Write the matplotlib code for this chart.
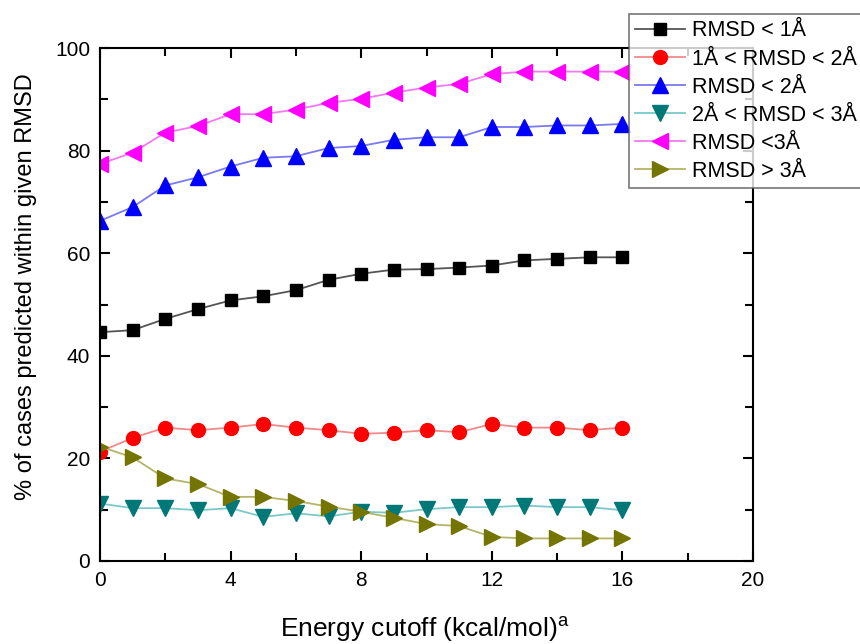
import matplotlib
matplotlib.use('Agg')
import matplotlib.pyplot as plt
from matplotlib.ticker import MultipleLocator

plt.rcParams['font.family'] = ['Liberation Sans', 'DejaVu Sans']

# data
cutoff = list(range(17))
rmsd_lt1 = [44.6, 45.0, 47.2, 49.1, 50.8, 51.6, 52.8, 54.8, 56.0, 56.8, 56.9, 57.2, 57.6, 58.6, 58.9, 59.2, 59.2]
rmsd_1_2 = [21.3, 24.0, 26.0, 25.5, 26.0, 26.7, 26.0, 25.5, 24.8, 25.0, 25.5, 25.1, 26.7, 26.0, 26.0, 25.5, 26.0]
rmsd_lt2 = [66.3, 69.0, 73.2, 74.8, 76.9, 78.6, 78.9, 80.5, 80.9, 82.1, 82.6, 82.6, 84.6, 84.6, 84.9, 84.9, 85.2]
rmsd_2_3 = [11.2, 10.3, 10.3, 9.9, 10.3, 8.6, 9.3, 8.7, 9.6, 9.4, 10.1, 10.5, 10.5, 10.8, 10.5, 10.5, 9.9]
rmsd_lt3 = [77.4, 79.6, 83.5, 84.8, 87.1, 87.1, 88.0, 89.3, 90.1, 91.3, 92.3, 93.0, 94.9, 95.4, 95.4, 95.4, 95.4]
rmsd_gt3 = [22.3, 20.2, 16.1, 15.0, 12.5, 12.5, 11.7, 10.6, 9.6, 8.4, 7.2, 6.8, 4.7, 4.4, 4.4, 4.4, 4.4]

series = [
    (rmsd_lt1, 'RMSD < 1Å', 's', 'black', '#555555', 9),
    (rmsd_1_2, '1Å < RMSD < 2Å', 'o', 'red', '#f08a8a', 10),
    (rmsd_lt2, 'RMSD < 2Å', '^', 'blue', '#7a7af0', 11),
    (rmsd_2_3, '2Å < RMSD < 3Å', 'v', '#007878', '#7cc8c8', 11),
    (rmsd_lt3, 'RMSD <3Å', '<', 'magenta', '#f27af2', 11),
    (rmsd_gt3, 'RMSD > 3Å', '>', '#747400', '#b4b46a', 11),
]

fig = plt.figure(figsize=(8.6, 6.44), dpi=100)
ax = fig.add_axes([100 / 860, 1 - 561 / 644, 653 / 860, 513 / 644])

for vals, lab, mk, col, lcol, ms in series:
    ax.plot(cutoff, vals, color=lcol, lw=1.3, marker=mk, markersize=ms,
            markerfacecolor=col, markeredgecolor=col, label=lab)

ax.set_xlim(0, 20)
ax.set_ylim(0, 100)
ax.xaxis.set_major_locator(MultipleLocator(4))
ax.xaxis.set_minor_locator(MultipleLocator(2))
ax.yaxis.set_major_locator(MultipleLocator(20))
ax.yaxis.set_minor_locator(MultipleLocator(10))
ax.tick_params(which='both', direction='in', top=True, right=True, width=1.5,
               labelsize=15, pad=7)
ax.tick_params(which='major', length=7)
ax.tick_params(which='minor', length=6)
for sp in ax.spines.values():
    sp.set_linewidth(1.5)

ax.set_xlabel('Energy cutoff (kcal/mol)$^{\\mathregular{a}}$', fontsize=19)
ax.set_ylabel('% of cases predicted within given RMSD', fontsize=17)
ax.xaxis.set_label_coords(0.497, -0.103)
ax.yaxis.set_label_coords(-0.097, 0.534)

# legend hangs over the right edge like in the original
leg = ax.legend(loc='upper left', bbox_to_anchor=(629 / 860, 1 - 14 / 644),
                bbox_transform=fig.transFigure, frameon=True, borderaxespad=0,
                fancybox=False, edgecolor='#555555', borderpad=0.3,
                labelspacing=0.33, handlelength=2.3, handletextpad=0.33,
                prop={'size': 15.5})
leg.get_frame().set_linewidth(1.2)

fig.savefig('out.png', dpi=100)
